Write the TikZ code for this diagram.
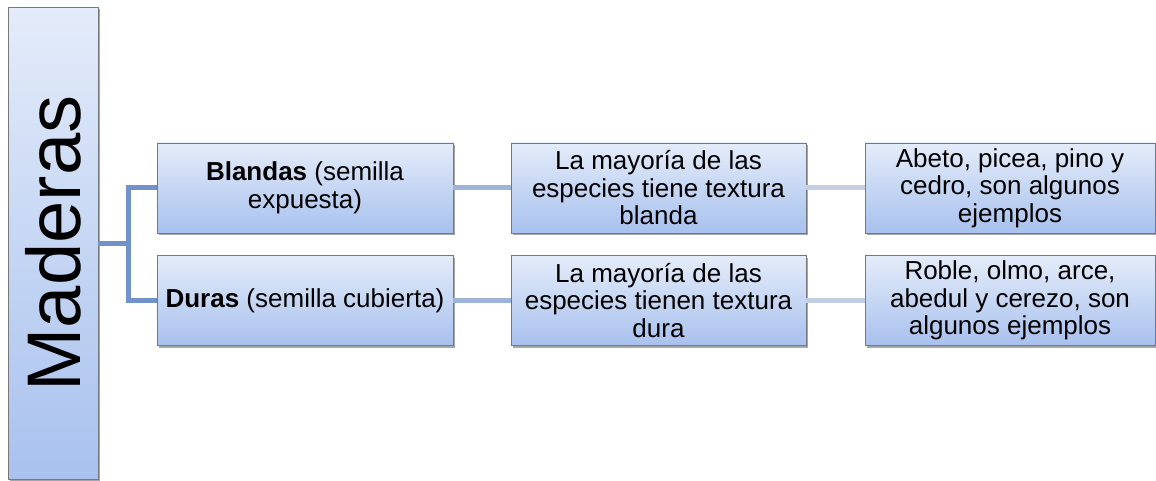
\documentclass[tikz,border=0pt]{standalone}
\usepackage{fontspec}
\setmainfont{Liberation Sans}
\usetikzlibrary{shadows}
\definecolor{boxtop}{RGB}{228,236,250}
\definecolor{boxbot}{RGB}{168,193,238}
\definecolor{boxline}{RGB}{120,120,120}
\definecolor{linkA}{RGB}{114,147,201}
\definecolor{linkB}{RGB}{158,180,216}
\definecolor{linkC}{RGB}{196,207,229}
\tikzset{
  box/.style={rectangle, draw=boxline, line width=0.8pt, top color=boxtop, bottom color=boxbot,
    inner sep=0pt, align=center, font=\fontsize{26}{27.5}\selectfont,
    drop shadow={shadow xshift=1.5pt, shadow yshift=-2pt, fill=black, opacity=0.35}},
  lvl1/.style={box, minimum width=296pt, minimum height=90pt},
  lvl2/.style={box, minimum width=295pt, minimum height=90pt},
  lvl3/.style={box, minimum width=290pt, minimum height=90pt},
  linkone/.style={draw=linkA, line width=5pt},
  linktwo/.style={draw=linkB, line width=5pt},
  linkthree/.style={draw=linkC, line width=5pt},
}
\begin{document}
\begin{tikzpicture}[x=1pt, y=-1pt]
\useasboundingbox (0,0) rectangle (1156,481);
% root
\node[box, minimum width=90pt, minimum height=472pt] (mad) at (53,243.5) {};
\node[rotate=90, font=\fontsize{76}{80}\selectfont, inner sep=0pt] (madt) at (mad.center) {Maderas};
% level 1
\node[lvl1] (bl) at (305,188) {\textbf{Blandas} (semilla\\expuesta)};
\node[lvl1] (du) at (305,300.5) {\textbf{Duras} (semilla cubierta)};
% level 2
\node[lvl2] (bl2) at (658.5,188) {La mayoría de las\\especies tiene textura\\blanda};
\node[lvl2] (du2) at (658.5,300.5) {La mayoría de las\\especies tienen textura\\dura};
% level 3
\node[lvl3] (bl3) at (1010,188) {Abeto, picea, pino y\\cedro, son algunos\\ejemplos};
\node[lvl3] (du3) at (1010,300.5) {Roble, olmo, arce,\\abedul y cerezo, son\\algunos ejemplos};
% connectors
\coordinate (j) at (128,243.5);
\draw[linkone] (mad.east) -- (j);
\draw[linkone] (bl.west) -| (j) |- (du.west);
\draw[linktwo] (bl.east) -- (bl2.west);
\draw[linktwo] (du.east) -- (du2.west);
\draw[linkthree] (bl2.east) -- (bl3.west);
\draw[linkthree] (du2.east) -- (du3.west);
\end{tikzpicture}
\end{document}
